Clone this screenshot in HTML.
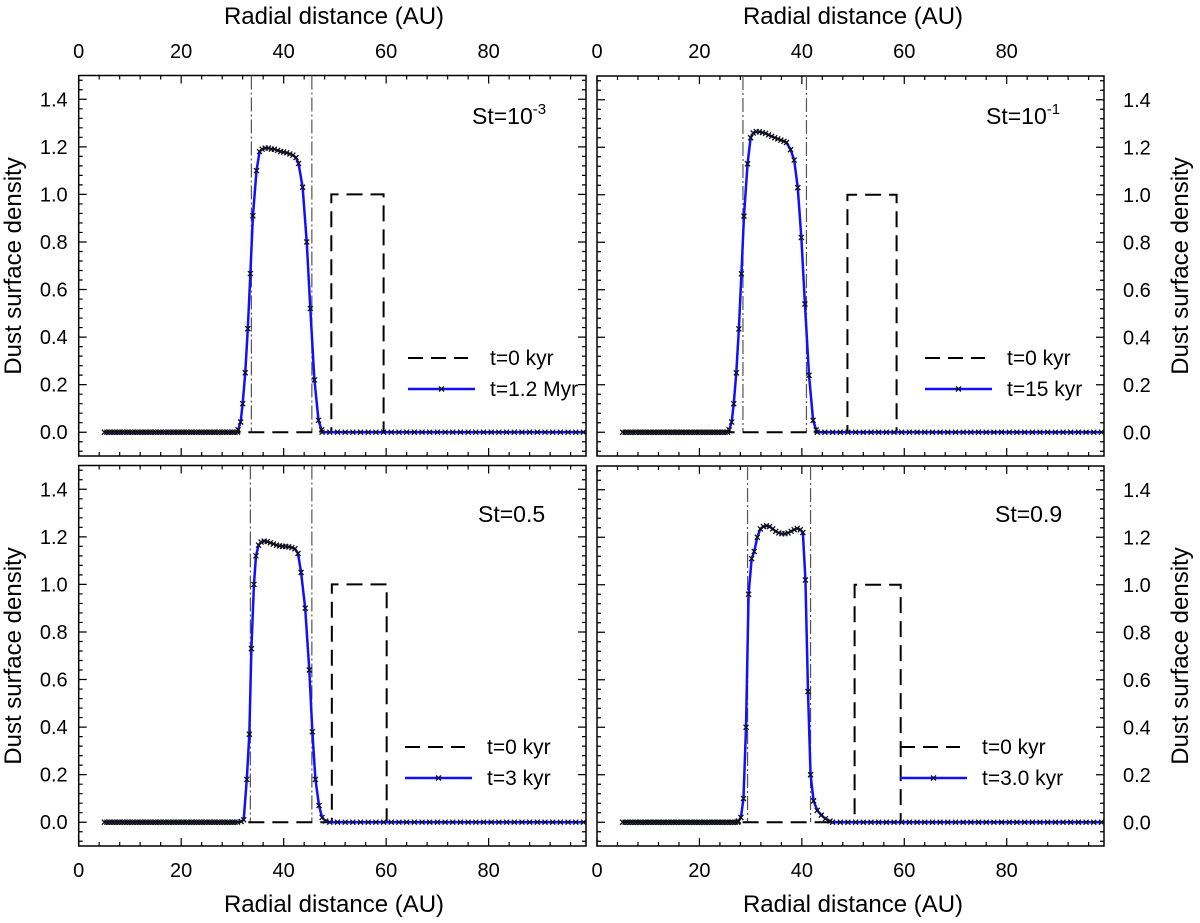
<!DOCTYPE html>
<html><head><meta charset="utf-8">
<style>
html,body{margin:0;padding:0;background:#fff;}
svg{display:block;font-family:"Liberation Sans",Arial,sans-serif;}
</style></head>
<body>
<svg id="fig" width="1200" height="923" viewBox="0 0 1200 923" xmlns="http://www.w3.org/2000/svg"></svg>
<script>
// ---- data ----
const xTicks = [0, 20, 40, 60, 80];
const yTicks = [0.0, 0.2, 0.4, 0.6, 0.8, 1.0, 1.2, 1.4];
const yTickLabels = ["0.0","0.2","0.4","0.6","0.8","1.0","1.2","1.4"];
const bgLeftX = [5,5.5,6,6.5,7,7.5,8,8.5,9,9.5,10,10.5,11,11.5,12,12.5,13,13.5,14,14.5,15,15.5,16,16.5,17,17.5,18,18.5,19,19.5,20,20.5,21,21.5,22,22.5,23,23.5,24,24.5,25,25.5,26,26.5,27,27.5,28,28.5,29,29.5,30,30.5,31];
const bgRightX = [43,44.5,46,47.5,49,50.5,52,53.5,55,56.5,58,59.5,61,62.5,64,65.5,67,68.5,70,71.5,73,74.5,76,77.5,79,80.5,82,83.5,85,86.5,88,89.5,91,92.5,94,95.5,97,98.5];

const p1X = [31.1,31.6,32,32.5,33,33.5,34,34.7,35.3,35.8,36.4,37,37.6,38.2,38.8,39.4,40,40.6,41.2,41.8,42.4,42.9,43.7,44.5,45.2,46,46.8,47.4];
const p1Y = [0.01,0.043,0.12,0.25,0.435,0.667,0.91,1.10,1.18,1.19,1.195,1.195,1.19,1.19,1.185,1.18,1.178,1.175,1.17,1.165,1.155,1.13,1.03,0.80,0.52,0.22,0.05,0.01];
const p2X = [25.8,26.3,26.7,27.2,27.7,28.2,28.7,29.4,30,30.5,31.1,31.7,32.3,32.9,33.5,34.1,34.7,35.3,35.9,36.5,37,37.8,38.5,39.2,39.9,40.6,41.4,42.2,42.8];
const p2Y = [0.01,0.043,0.12,0.25,0.435,0.667,0.91,1.13,1.24,1.26,1.266,1.265,1.262,1.258,1.252,1.246,1.24,1.235,1.23,1.225,1.22,1.19,1.146,1.03,0.82,0.54,0.24,0.05,0.01];
const p3X = [31.7,32.2,32.8,33.3,33.7,34.2,34.6,35.1,35.6,36.2,36.8,37.4,38,38.6,39.2,39.8,40.4,41,41.6,42.2,42.8,43.4,44.2,45,45.6,46.2,46.9,47.5,48.2];
const p3Y = [0.003,0.01,0.18,0.37,0.73,1.0,1.12,1.165,1.178,1.182,1.18,1.175,1.17,1.165,1.162,1.16,1.16,1.158,1.155,1.15,1.13,1.05,0.9,0.64,0.38,0.18,0.07,0.02,0.005];
const p4X = [27.6,28.1,28.6,29.1,29.6,30.2,30.7,31.3,31.9,32.5,33.1,33.7,34.3,34.9,35.5,36.1,36.7,37.3,37.9,38.5,39.1,39.7,40.2,40.7,41.2,41.7,42.3,43,43.8,44.6,45.5];
const p4Y = [0.005,0.02,0.1,0.4,0.96,1.11,1.14,1.20,1.235,1.245,1.248,1.245,1.235,1.225,1.218,1.215,1.215,1.218,1.225,1.232,1.237,1.232,1.22,1.02,0.55,0.2,0.09,0.05,0.03,0.015,0.005];

const initX1 = [5,49.3,49.3,59.5,59.5,99]; const initY1 = [0,0,1,1,0,0];
const initX2 = [5,48.9,48.9,58.5,58.5,99]; const initY2 = [0,0,1,1,0,0];
const initX3 = [5,49.4,49.4,60.1,60.1,99]; const initY3 = [0,0,1,1,0,0];
const initX4 = [5,50.3,50.3,59.3,59.3,99]; const initY4 = [0,0,1,1,0,0];

const vlines1 = [33.7,45.5];
const vlines2 = [28.5,40.9];
const vlines3 = [33.5,45.5];
const vlines4 = [29.4,41.7];

// ---- layout ----
const NS="http://www.w3.org/2000/svg";
const svg=document.getElementById('fig');
function mk(tag,attrs,parent){const e=document.createElementNS(NS,tag);for(const k in attrs)e.setAttribute(k,attrs[k]);(parent||svg).appendChild(e);return e;}

const panels=[
 {name:'st-1e-3',L:78.7,R:586,T:75.5,B:456,px:p1X,py:p1Y,ix:initX1,iy:initY1,vl:vlines1,lab:'St=10',sup:'-3',labX:472,labY:124,legX:408,legY:358,leg2:'t=1.2 Myr',yLeft:true,xTop:true},
 {name:'st-0.1',L:597,R:1104,T:76,B:456,px:p2X,py:p2Y,ix:initX2,iy:initY2,vl:vlines2,lab:'St=10',sup:'-1',labX:986,labY:124,legX:925,legY:358,leg2:'t=15 kyr',yLeft:false,xTop:true},
 {name:'st-0.5',L:78.7,R:586,T:465.5,B:846,px:p3X,py:p3Y,ix:initX3,iy:initY3,vl:vlines3,lab:'St=0.5',sup:'',labX:478,labY:522,legX:405,legY:747,leg2:'t=3 kyr',yLeft:true,xTop:false},
 {name:'st-0.9',L:597,R:1104,T:466,B:846,px:p4X,py:p4Y,ix:initX4,iy:initY4,vl:vlines4,lab:'St=0.9',sup:'',labX:995,labY:522,legX:900,legY:747,leg2:'t=3.0 kyr',yLeft:false,xTop:false}
];
const XMIN=0,XMAX=99,YMIN=-0.1,YMAX=1.5;

panels.forEach((p,pi)=>{
 const sx=v=>p.L+(v-XMIN)/(XMAX-XMIN)*(p.R-p.L);
 const sy=v=>p.B-(v-YMIN)/(YMAX-YMIN)*(p.B-p.T);
 const g=mk('g',{});
 
 
 const fr=mk('rect',{x:p.L,y:p.T,width:p.R-p.L,height:p.B-p.T,fill:'none',stroke:'#000','stroke-width':1.5},g);
 
 
 let d='';
 for(let v=0;v<=XMAX;v+=4){const X=sx(v);const len=(v%20===0)?8:4;d+=`M${X},${p.B}v${-len}M${X},${p.T}v${len}`;}
 for(let k=-2;k<=37;k++){const v=k*0.04;if(v<YMIN||v>YMAX)continue;const Y=sy(v);const maj=Math.abs(Math.round(v*5)-v*5)<1e-6;const len=maj?8:4;d+=`M${p.L},${Y}h${len}M${p.R},${Y}h${-len}`;}
 const tk=mk('path',{d:d,stroke:'#000','stroke-width':1.2,fill:'none'},g);
 
 
 xTicks.forEach(v=>{
  const t=mk('text',{x:sx(v),y:p.xTop?58:877,'text-anchor':'middle','font-size':20,fill:'#000'},g);
  t.textContent=v;
  
  
 });
 yTicks.forEach((v,i)=>{
  const t=mk('text',{x:p.yLeft?p.L-11:p.R+19,y:sy(v)+7,'text-anchor':p.yLeft?'end':'start','font-size':20,fill:'#000'},g);
  t.textContent=yTickLabels[i];
  
  
 });
 p.vl.forEach(v=>{
  const l=mk('line',{x1:sx(v),x2:sx(v),y1:p.T,y2:sy(0),stroke:'#555','stroke-width':1.2,'stroke-dasharray':'14,3,2,3'},g);
  
  
 });
 const ip=mk('polyline',{points:p.ix.map((x,i)=>sx(x)+','+sy(p.iy[i])).join(' '),fill:'none',stroke:'#000','stroke-width':2,'stroke-dasharray':'16,8'},g);
 
 
 const xs0=p.px[0], xs1=p.px[p.px.length-1];
 const pts=[];
 bgLeftX.forEach(x=>{if(x<xs0)pts.push([x,0]);});
 p.px.forEach((x,i)=>pts.push([x,p.py[i]]));
 bgRightX.forEach(x=>{if(x>xs1)pts.push([x,0]);});
 const ln=mk('polyline',{points:pts.map(q=>sx(q[0])+','+sy(q[1])).join(' '),fill:'none',stroke:'#1010ff','stroke-width':2.5},g);
 
 
 let md='';
 pts.forEach(q=>{const X=sx(q[0]),Y=sy(q[1]);md+=`M${X-2.5},${Y-2.5}l5,5M${X-2.5},${Y+2.5}l5,-5`;});
 const mkp=mk('path',{d:md,stroke:'#111','stroke-width':1.3,fill:'none'},g);
 
 
 const lb=mk('text',{x:p.labX,y:p.labY,'font-size':23,fill:'#000'},g);
 lb.textContent=p.lab;
 if(p.sup){const s=mk('tspan',{dy:-10,'font-size':15},lb);s.textContent=p.sup;}
 
 
 const lg=mk('g',{},g);
 
 
 mk('line',{x1:p.legX,x2:p.legX+60,y1:p.legY,y2:p.legY,stroke:'#000','stroke-width':2,'stroke-dasharray':'15,8'},lg);
 const t1=mk('text',{x:p.legX+82,y:p.legY+7,'font-size':21,fill:'#000'},lg);t1.textContent='t=0 kyr';
 
 
 const y2=p.legY+31;
 mk('line',{x1:p.legX,x2:p.legX+67,y1:y2,y2:y2,stroke:'#1010ff','stroke-width':2.5},lg);
 mk('path',{d:`M${p.legX+31},${y2-2.5}l5,5M${p.legX+31},${y2+2.5}l5,-5`,stroke:'#111','stroke-width':1.3},lg);
 const t2=mk('text',{x:p.legX+82,y:y2+7,'font-size':21,fill:'#000'},lg);t2.textContent=p.leg2;
 
 
});

function title(txt,x,y,rot,name){
 const t=mk('text',{x:x,y:y,'text-anchor':'middle','font-size':24,fill:'#000',transform:rot?`rotate(-90 ${x} ${y})`:''});
 t.textContent=txt;
 
 
}
title('Radial distance (AU)',334,24,false,'x-axis-title-top-left');
title('Radial distance (AU)',853,24,false,'x-axis-title-top-right');
title('Radial distance (AU)',334,912,false,'x-axis-title-bottom-left');
title('Radial distance (AU)',853,912,false,'x-axis-title-bottom-right');
title('Dust surface density',21,266,true,'y-axis-title-top-left');
title('Dust surface density',21,656,true,'y-axis-title-bottom-left');
title('Dust surface density',1188,266,true,'y-axis-title-top-right');
title('Dust surface density',1188,656,true,'y-axis-title-bottom-right');
</script>
</body></html>
